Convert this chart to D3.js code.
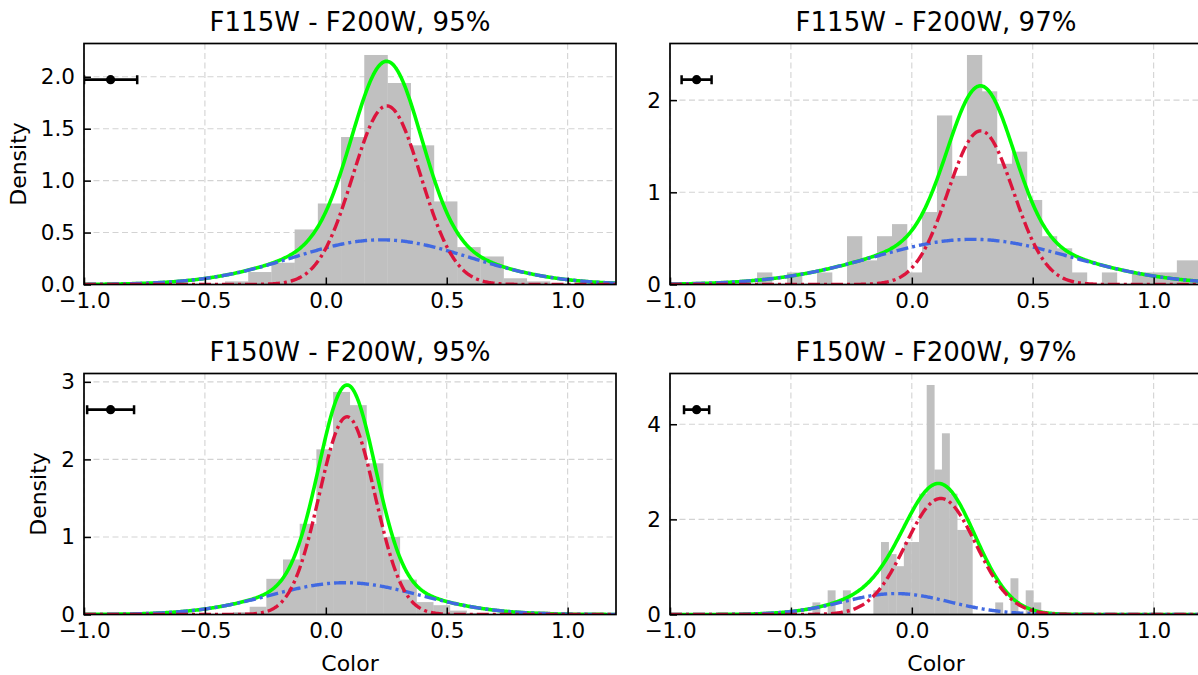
<!DOCTYPE html>
<html>
<head>
<meta charset="utf-8">
<script src="https://cdn.jsdelivr.net/npm/d3@7"></script>
<style>
  body { margin: 0; background: #fff; }
  svg { display: block; font-family: "DejaVu Sans", sans-serif; }
</style>
</head>
<body>
<div id="chart"></div>
<script>
var titles = ["F115W - F200W, 95%", "F115W - F200W, 97%",
              "F150W - F200W, 95%", "F150W - F200W, 97%"];
var xTicks = [-1.0, -0.5, 0.0, 0.5, 1.0];
var yTicks = [[0, 0.5, 1.0, 1.5, 2.0], [0, 1, 2], [0, 1, 2, 3], [0, 2, 4]];
var yFormats = [".1f", "d", "d", "d"];

// histograms: left edge of first bin, bin width, density per bin
var binStart = [-0.417, -0.640, -0.384, -0.411];
var binWidth = [0.096, 0.062, 0.069, 0.0315];
var hist115_95 = [0.03, 0.12, 0.21, 0.53, 0.78, 1.42, 2.21, 1.94, 1.34, 0.80, 0.36, 0.27, 0.06, 0.03];
var hist115_97 = [0.131, 0, 0.131, 0, 0.131, 0, 0.524, 0.262, 0.524, 0.655, 0.131, 0.786,
                  1.834, 1.179, 2.49, 2.096, 1.31, 1.441, 0.917, 0.524, 0.393, 0.131, 0, 0.131,
                  0, 0.131, 0.131, 0.131, 0.262, 0.262];
var hist150_95 = [0.03, 0.10, 0.46, 0.71, 1.17, 2.13, 2.87, 2.70, 1.95, 1.00, 0.45, 0.16,
                  0.12, 0.05, 0.02, 0, 0, 0.04, 0.04];
var hist150_97 = [0.254, 0, 0.508, 0, 0.508, 0, 0, 0, 0.508, 1.524, 1.27, 1.016, 1.524, 1.524,
                  2.54, 4.826, 3.048, 3.81, 2.54, 1.778, 1.778, 0, 0, 0, 0.254, 0, 0.762, 0,
                  0.508, 0.254];
var hists = [hist115_95, hist115_97, hist150_95, hist150_97];

// fitted gaussian components: [mean, sigma, peak]
var narrowFit = [[0.252, 0.141, 1.72], [0.285, 0.135, 1.667], [0.088, 0.115, 2.55], [0.12, 0.145, 2.44]];
var broadFit = [[0.23, 0.365, 0.43], [0.25, 0.41, 0.49], [0.08, 0.31, 0.41], [-0.065, 0.22, 0.44]];

// typical colour error shown in the corner
var errCenter = -0.89;
var errSize = [0.11, 0.062, 0.097, 0.052];

function gauss(p, x) {
    return p[2] * Math.exp(-(x - p[0]) * (x - p[0]) / (2 * p[1] * p[1]));
}

function init() {

    var W = 1198;
    var H = 675;

    var pw = 532;
    var ph = 241;
    var lefts = [84, 670];
    var tops = [43.5, 373.5];

    var svg = d3.select("#chart")
                .append("svg")
                .attr("width", W)
                .attr("height", H);

    var xGrid = d3.range(-1, 1.2001, 0.004);

    for (var p = 0; p < 4; p++) {
        var col = p % 2, row = Math.floor(p / 2);
        var g = svg.append("g")
                   .attr("transform", "translate(" + lefts[col] + "," + tops[row] + ")");

        var x = d3.scaleLinear().domain([-1, 1.2]).range([0, pw]);

        var nar = narrowFit[p], br = broadFit[p];
        var total = xGrid.map(function(v) { return gauss(nar, v) + gauss(br, v); });
        var ymax = 1.05 * Math.max(d3.max(hists[p]), d3.max(total));
        var y = d3.scaleLinear().domain([0, ymax]).range([ph, 0]);

        var clipId = "clip" + p;
        g.append("clipPath").attr("id", clipId)
         .append("rect").attr("width", pw).attr("height", ph);

        // grid
        g.append("g").selectAll("line")
         .data(xTicks).enter().append("line")
         .attr("x1", function(d) { return x(d); })
         .attr("x2", function(d) { return x(d); })
         .attr("y1", 0).attr("y2", ph)
         .attr("stroke", "#d3d3d3").attr("stroke-width", 1.1)
         .attr("stroke-dasharray", "6,3.5");
        g.append("g").selectAll("line")
         .data(yTicks[p]).enter().append("line")
         .attr("x1", 0).attr("x2", pw)
         .attr("y1", function(d) { return y(d); })
         .attr("y2", function(d) { return y(d); })
         .attr("stroke", "#d3d3d3").attr("stroke-width", 1.1)
         .attr("stroke-dasharray", "6,3.5");

        var plot = g.append("g").attr("clip-path", "url(#" + clipId + ")");

        // histogram
        var bs = binStart[p], bw = binWidth[p];
        plot.selectAll("rect.bar")
            .data(hists[p])
            .enter()
            .append("rect")
            .attr("class", "bar")
            .attr("x", function(d, i) { return x(bs + i * bw); })
            .attr("width", function(d, i) { return x(bs + (i + 1) * bw) - x(bs + i * bw) + 0.3; })
            .attr("y", function(d) { return y(d); })
            .attr("height", function(d) { return ph - y(d); })
            .attr("fill", "#c0c0c0");

        var line = d3.line()
                     .x(function(d) { return x(d[0]); })
                     .y(function(d) { return y(d[1]); });

        plot.append("path")
            .datum(xGrid.map(function(v, i) { return [v, total[i]]; }))
            .attr("d", line)
            .attr("fill", "none")
            .attr("stroke", "#00ff00")
            .attr("stroke-width", 3.6)
            .attr("stroke-linejoin", "round");

        plot.append("path")
            .datum(xGrid.map(function(v) { return [v, gauss(br, v)]; }))
            .attr("d", line)
            .attr("fill", "none")
            .attr("stroke", "#4169e1")
            .attr("stroke-width", 3.4)
            .attr("stroke-dasharray", "12,4,3,4");

        plot.append("path")
            .datum(xGrid.map(function(v) { return [v, gauss(nar, v)]; }))
            .attr("d", line)
            .attr("fill", "none")
            .attr("stroke", "#dc143c")
            .attr("stroke-width", 3.4)
            .attr("stroke-dasharray", "12,4,3,4");

        // error bar in the corner (at 85% of the axis height)
        var ey = y(0.85 * ymax);
        var ex1 = x(errCenter - errSize[p]), ex2 = x(errCenter + errSize[p]);
        plot.append("line")
            .attr("x1", ex1).attr("x2", ex2).attr("y1", ey).attr("y2", ey)
            .attr("stroke", "black").attr("stroke-width", 2.8);
        [ex1, ex2].forEach(function(ex) {
            plot.append("line")
                .attr("x1", ex).attr("x2", ex).attr("y1", ey - 4.5).attr("y2", ey + 4.5)
                .attr("stroke", "black").attr("stroke-width", 2.5);
        });
        plot.append("circle")
            .attr("cx", x(errCenter)).attr("cy", ey).attr("r", 4.6)
            .attr("fill", "black");

        // axes
        var xAxis = d3.axisBottom(x)
                      .tickValues(xTicks)
                      .tickSizeInner(-7)
                      .tickSizeOuter(0)
                      .tickPadding(8)
                      .tickFormat(d3.format(".1f"));
        var yAxis = d3.axisLeft(y)
                      .tickValues(yTicks[p])
                      .tickSizeInner(-7)
                      .tickSizeOuter(0)
                      .tickPadding(9)
                      .tickFormat(d3.format(yFormats[p]));

        var gx = g.append("g")
                  .attr("transform", "translate(0," + ph + ")")
                  .call(xAxis);
        var gy = g.append("g").call(yAxis);

        [gx, gy].forEach(function(ax) {
            ax.select(".domain").remove();
            ax.selectAll("line").attr("stroke", "black").attr("stroke-width", 1.5);
            ax.selectAll("text")
              .attr("fill", "black")
              .style("font-size", "21.5px")
              .style("font-family", "'DejaVu Sans', sans-serif");
        });

        // frame
        g.append("rect")
         .attr("width", pw).attr("height", ph)
         .attr("fill", "none")
         .attr("stroke", "black")
         .attr("stroke-width", 1.7);

        // title
        g.append("text")
         .attr("x", pw / 2).attr("y", -12.5)
         .attr("text-anchor", "middle")
         .style("font-size", "26px")
         .text(titles[p]);

        if (col === 0) {
            var minX = 0;
            gy.selectAll("text").each(function() {
                var b = this.getBBox();
                if (b.x < minX) minX = b.x;
            });
            g.append("text")
             .attr("transform", "translate(" + (minX - 15) + "," + (ph / 2) + ") rotate(-90)")
             .attr("text-anchor", "middle")
             .style("font-size", "22px")
             .text("Density");
        }
        if (row === 1) {
            g.append("text")
             .attr("x", pw / 2).attr("y", ph + 56)
             .attr("text-anchor", "middle")
             .style("font-size", "22px")
             .text("Color");
        }
    }
}

window.onload = init;
</script>
</body>
</html>
